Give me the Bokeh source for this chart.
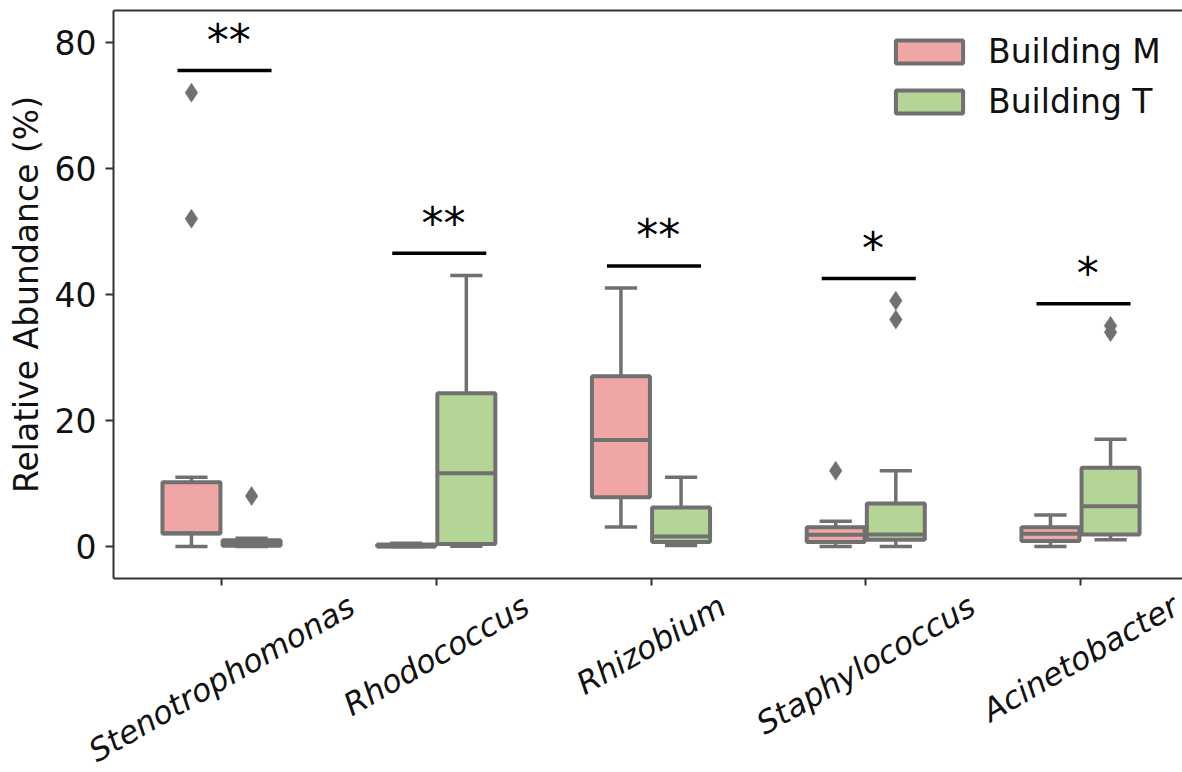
import math
import numpy as np
from bokeh.plotting import figure
from bokeh.models import (Range1d, FixedTicker, LinearAxis,
                          ColumnDataSource, Legend, LegendItem)
from bokeh.core.properties import value
from bokeh.embed import file_html
from bokeh.resources import INLINE

# ---------------- data ----------------
genera = ["Stenotrophomonas", "Rhodococcus", "Rhizobium", "Staphylococcus", "Acinetobacter"]
groups = ["Building M", "Building T"]

m_lo  = [0.0, 0.0, 3.1, 0.0, 0.0]
m_q1  = [2.05, 0.0, 7.8, 0.7, 0.85]
m_med = [2.1, 0.05, 16.9, 1.85, 2.0]
m_q3  = [10.2, 0.3, 27.0, 3.05, 3.05]
m_hi  = [11.0, 0.5, 41.0, 4.0, 5.0]

t_lo  = [0.0, 0.05, 0.15, 0.0, 1.05]
t_q1  = [0.1, 0.4, 0.7, 1.05, 1.9]
t_med = [0.4, 11.6, 1.6, 1.9, 6.4]
t_q3  = [1.0, 24.3, 6.2, 6.8, 12.5]
t_hi  = [1.3, 43.0, 11.0, 12.0, 17.0]

m_out_genus = [0, 0, 3]
m_out_val   = [72.0, 52.0, 12.0]
t_out_genus = [0, 3, 3, 4, 4]
t_out_val   = [8.0, 39.0, 36.0, 35.0, 34.0]

sig_y     = [75.5, 46.5, 44.5, 42.5, 38.5]
sig_stars = ["**", "**", "**", "*", "*"]

y_ticks = [0, 20, 40, 60, 80]

# ---------------- style ----------------
FONT = "DejaVu Sans"
PINK = "#f1a6a6"
GREEN = "#b4d595"
GRAY = "#707070"
AXIS = "#333333"
TXT = "#111111"
FS = 33
FSX = 31.5

W = 1182
BL, BT = 113, 10
FRAME_H = 568
BB = 10
HM = BT + FRAME_H + BB          # main figure height
HL = 772 - HM                   # label strip height
x0, x1 = -0.503, 4.475
y0, y1 = -5.08, 85.03

p = figure(width=W, height=HM, x_range=Range1d(x0, x1), y_range=Range1d(y0, y1),
           output_backend="svg", toolbar_location=None,
           min_border_left=BL, min_border_right=0, min_border_top=BT, min_border_bottom=BB,
           x_axis_location=None, y_axis_location=None)
p.outline_line_color = None
p.xgrid.visible = False
p.ygrid.visible = False

# axes
yax = LinearAxis(ticker=FixedTicker(ticks=y_ticks))
yax.axis_label = "Relative Abundance (%)"
yax.axis_label_text_font = FONT
yax.axis_label_text_font_size = f"{FS}px"
yax.axis_label_text_font_style = "normal"
yax.axis_label_text_color = TXT
yax.axis_label_standoff = 6
yax.major_label_text_font = FONT
yax.major_label_text_font_size = f"{FS}px"
yax.major_label_text_color = TXT
yax.major_label_standoff = 9
yax.major_tick_out = 8
yax.major_tick_in = 0
yax.minor_tick_out = 0
yax.minor_tick_in = 0
yax.axis_line_width = 2
yax.axis_line_color = AXIS
yax.major_tick_line_width = 2
yax.major_tick_line_color = AXIS
p.add_layout(yax, "left")

xax = LinearAxis(ticker=FixedTicker(ticks=list(range(len(genera)))))
xax.major_label_overrides = {i: "" for i in range(len(genera))}
xax.major_label_text_font_size = "1px"
xax.major_label_standoff = 0
xax.major_tick_out = 7
xax.major_tick_in = 0
xax.minor_tick_out = 0
xax.minor_tick_in = 0
xax.axis_line_width = 2
xax.axis_line_color = AXIS
xax.major_tick_line_width = 2
xax.major_tick_line_color = AXIS
p.add_layout(xax, "below")

top = LinearAxis(ticker=FixedTicker(ticks=[]))
top.axis_line_width = 2
top.axis_line_color = AXIS
top.major_tick_out = 0
top.minor_tick_out = 0
p.add_layout(top, "above")

# ---------------- boxes ----------------
OFF = 0.14
BW = 0.27
CW = 0.15
xs = np.arange(len(genera), dtype=float)

def box_source(offset, lo, q1, med, q3, hi):
    cx = xs + offset
    return ColumnDataSource(dict(
        cx=cx, left=cx - BW / 2, right=cx + BW / 2,
        cl=cx - CW / 2, cr=cx + CW / 2,
        lo=lo, q1=q1, med=med, q3=q3, hi=hi))

renderers = []
for offset, arrs, color in [(-OFF, (m_lo, m_q1, m_med, m_q3, m_hi), PINK),
                            (OFF, (t_lo, t_q1, t_med, t_q3, t_hi), GREEN)]:
    src = box_source(offset, *arrs)
    for a, b in [("q3", "hi"), ("lo", "q1")]:
        p.segment(x0="cx", y0=a, x1="cx", y1=b, source=src, line_color=GRAY, line_width=3.5)
    for c in ["hi", "lo"]:
        p.segment(x0="cl", y0=c, x1="cr", y1=c, source=src, line_color=GRAY, line_width=3.5)
    r = p.quad(left="left", right="right", bottom="q1", top="q3", source=src,
               fill_color=color, line_color=GRAY, line_width=4)
    p.segment(x0="left", y0="med", x1="right", y1="med", source=src, line_color=GRAY, line_width=4)
    renderers.append(r)

# outliers
p.scatter(x=[g - OFF for g in m_out_genus], y=m_out_val, marker="diamond", size=19,
          fill_color=GRAY, line_color=GRAY, line_width=0.5)
p.scatter(x=[g + OFF for g in t_out_genus], y=t_out_val, marker="diamond", size=19,
          fill_color=GRAY, line_color=GRAY, line_width=0.5)

# significance lines and stars
SL, SR = -0.205, 0.233
p.segment(x0=xs + SL, y0=sig_y, x1=xs + SR, y1=sig_y, line_color="black", line_width=3.5)
px_per_unit = FRAME_H / (y1 - y0)
p.text(x=xs + 0.034, y=[v + 30 / px_per_unit for v in sig_y], text=sig_stars,
       text_font=value(FONT), text_font_size="44px", text_align="center",
       text_baseline="alphabetic", text_color="black")

# legend
legend = Legend(items=[LegendItem(label=groups[0], renderers=[renderers[0]]),
                       LegendItem(label=groups[1], renderers=[renderers[1]])],
                location=(774, 457), orientation="vertical")
legend.glyph_width = 84
legend.glyph_height = 29
legend.label_standoff = 17
legend.spacing = 11
legend.padding = 0
legend.margin = 0
legend.border_line_color = None
legend.background_fill_alpha = 0
legend.label_text_font = FONT
legend.label_text_font_size = f"{FS}px"
legend.label_text_color = TXT
p.add_layout(legend, "center")

# ---------------- rotated category labels (centred like matplotlib) ----------------
EM = {"S": .635, "t": .392, "e": .615, "n": .634, "o": .612, "r": .411, "p": .635,
      "h": .634, "m": .974, "a": .613, "s": .521, "R": .695, "d": .635, "c": .550,
      "u": .634, "i": .278, "z": .525, "b": .635, "y": .592, "l": .278, "A": .684}
ANG = math.pi / 6
label_top = 589.0               # page px where the rotated label boxes start
px_per_x = (W - BL) / (x1 - x0)
lab = figure(width=W, height=HL, x_range=Range1d(x0 - BL / px_per_x, x1), y_range=Range1d(0, HL),
             output_backend="svg", toolbar_location=None,
             min_border_left=0, min_border_right=0, min_border_top=0, min_border_bottom=0,
             x_axis_location=None, y_axis_location=None)
lab.outline_line_color = None
lab.xgrid.visible = False
lab.ygrid.visible = False
ly = []
for g in genera:
    L = sum(EM.get(ch, 0.6) for ch in g) * FSX
    hgt = L * math.sin(ANG) + FSX * math.cos(ANG)
    cy = label_top + hgt / 2
    ly.append(HL - (cy - HM))
lab.text(x=xs, y=ly, text=genera, angle=ANG, text_align="center", text_baseline="middle",
         text_font=value(FONT), text_font_size=f"{FSX}px", text_font_style="italic",
         text_color=TXT)

open("out.html", "w").write(file_html([p, lab], INLINE))
